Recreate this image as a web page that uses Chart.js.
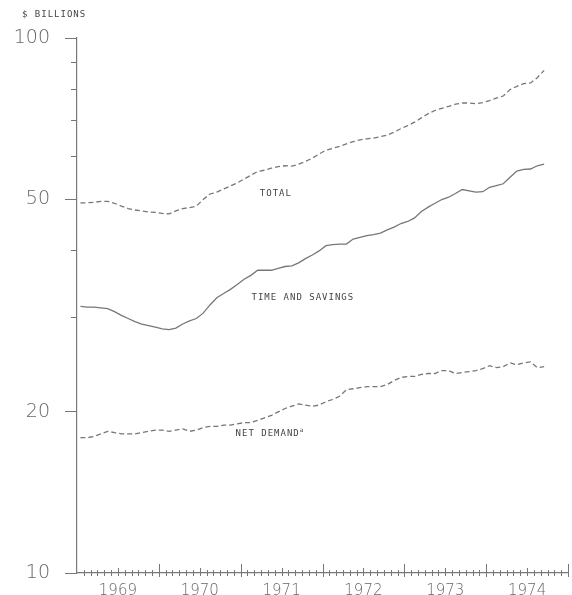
<!DOCTYPE html>
<html>
<head>
<meta charset="utf-8">
<script src="https://cdn.jsdelivr.net/npm/chart.js@4.4.1/dist/chart.umd.min.js"></script>
<style>
  html, body { margin: 0; padding: 0; background: #fff; }
</style>
</head>
<body>
<canvas id="depositChart" width="572" height="595"></canvas>
<script>
// monthly readings, Jan 1969 .. Sep 1974, plotted at mid-month
const firstYear = 1969;
const monthCount = 69;
const months = Array.from({ length: monthCount }, (_, i) => firstYear + (i + 0.5) / 12);

// $ billions
const total = [
  49.2, 49.2, 49.3, 49.5, 49.5, 49.1, 48.5, 48.0, 47.7, 47.5, 47.3, 47.2,
  47.0, 46.9, 47.5, 48.0, 48.2, 48.5, 49.9, 51.1, 51.5, 52.2, 52.9, 53.6,
  54.5, 55.4, 56.3, 56.6, 57.1, 57.5, 57.7, 57.6, 58.1, 58.8, 59.6, 60.7,
  61.7, 62.2, 62.7, 63.4, 64.0, 64.5, 64.8, 65.0, 65.4, 65.8, 66.7, 67.7,
  68.6, 69.6, 70.9, 72.2, 73.2, 73.9, 74.5, 75.2, 75.6, 75.6, 75.4, 75.7,
  76.4, 77.2, 77.9, 80.1, 81.2, 82.2, 82.4, 84.3, 87.0
];
const timeSavings = [
  31.5, 31.4, 31.4, 31.3, 31.2, 30.8, 30.3, 29.9, 29.5, 29.2, 29.0, 28.8,
  28.6, 28.5, 28.7, 29.2, 29.6, 29.9, 30.6, 31.7, 32.7, 33.3, 33.9, 34.6,
  35.4, 36.0, 36.8, 36.8, 36.8, 37.1, 37.4, 37.5, 38.0, 38.7, 39.3, 40.0,
  40.9, 41.1, 41.2, 41.2, 42.1, 42.4, 42.7, 42.9, 43.2, 43.8, 44.3, 45.0,
  45.4, 46.1, 47.4, 48.3, 49.1, 49.9, 50.4, 51.2, 52.1, 51.8, 51.5, 51.6,
  52.6, 53.0, 53.4, 54.9, 56.4, 56.8, 56.9, 57.7, 58.1
];
const netDemand = [
  17.9, 17.9, 18.0, 18.2, 18.4, 18.3, 18.2, 18.2, 18.2, 18.3, 18.4, 18.5,
  18.5, 18.4, 18.5, 18.6, 18.4, 18.5, 18.7, 18.8, 18.8, 18.9, 18.9, 19.0,
  19.1, 19.1, 19.3, 19.5, 19.7, 20.0, 20.3, 20.5, 20.7, 20.6, 20.5, 20.6,
  20.9, 21.1, 21.4, 22.0, 22.1, 22.2, 22.3, 22.3, 22.3, 22.5, 22.9, 23.2,
  23.3, 23.3, 23.5, 23.6, 23.6, 23.9, 23.9, 23.6, 23.7, 23.8, 23.9, 24.1,
  24.4, 24.2, 24.3, 24.7, 24.5, 24.7, 24.8, 24.2, 24.3
];

const yearLabels = ["1969", "1970", "1971", "1972", "1973", "1974"];
const yMajorTicks = [10, 20, 50, 100];
const yMinorTicks = [30, 40, 60, 70, 80, 90];

// curve captions, placed in data units
const curveLabels = [
  { text: "TOTAL", x: 1971.43, y: 51.1 },
  { text: "TIME AND SAVINGS", x: 1971.76, y: 32.7 },
  { text: "NET DEMAND", x: 1971.33, y: 18.2, note: "a" }
];

const inkColor = "#777";
const textColor = "#444";
const smallFont = "9px 'DejaVu Sans Mono', monospace";

// month / half-year / year marks that cross the time axis
const crossTicks = {
  id: "crossTicks",
  afterDraw(chart) {
    const { ctx, chartArea } = chart;
    const x = chart.scales.x;
    const base = chartArea.bottom;
    ctx.save();
    ctx.strokeStyle = inkColor;
    ctx.lineWidth = 1;
    x.ticks.forEach((t) => {
      const k = Math.round((t.value - firstYear) * 12);
      if (k === 0) return;
      const up = k % 12 === 0 ? 9 : k % 6 === 0 ? 5 : 3;
      const down = k % 12 === 0 ? 4 : 3;
      const px = Math.round(x.getPixelForValue(t.value)) + 0.5;
      ctx.beginPath();
      ctx.moveTo(px, base - up);
      ctx.lineTo(px, base + down);
      ctx.stroke();
    });
    ctx.restore();
  }
};

const captions = {
  id: "captions",
  afterDraw(chart) {
    const { ctx } = chart;
    const { x, y } = chart.scales;
    ctx.save();
    ctx.fillStyle = textColor;
    ctx.font = smallFont;
    ctx.letterSpacing = "1px";
    ctx.textBaseline = "middle";

    ctx.textAlign = "left";
    ctx.fillText("$ BILLIONS", 22, 15);

    ctx.textAlign = "center";
    curveLabels.forEach((l) => {
      const px = x.getPixelForValue(l.x);
      const py = y.getPixelForValue(l.y);
      ctx.fillText(l.text, px, py);
      if (l.note) {
        const w = ctx.measureText(l.text).width;
        ctx.save();
        ctx.font = "6px 'DejaVu Sans Mono', monospace";
        ctx.textAlign = "left";
        ctx.fillText(l.note, px + w / 2, py - 3);
        ctx.restore();
      }
    });
    ctx.restore();
  }
};

const lineStyle = {
  borderColor: inkColor,
  borderWidth: 1.3,
  pointRadius: 0,
  tension: 0,
  fill: false
};

new Chart(document.getElementById("depositChart"), {
  type: "line",
  data: {
    labels: months,
    datasets: [
      { label: "Total", data: total, borderDash: [5, 3], ...lineStyle },
      { label: "Time and savings", data: timeSavings, ...lineStyle },
      { label: "Net demand", data: netDemand, borderDash: [5, 3], ...lineStyle }
    ]
  },
  options: {
    responsive: false,
    animation: false,
    devicePixelRatio: 1,
    layout: { padding: { top: 38, right: 4, left: 0, bottom: 0 } },
    plugins: {
      legend: { display: false },
      tooltip: { enabled: false }
    },
    scales: {
      x: {
        type: "linear",
        min: firstYear,
        max: firstYear + 6,
        position: "bottom",
        afterBuildTicks: (scale) => {
          scale.ticks = Array.from({ length: 73 }, (_, k) => ({ value: firstYear + k / 12 }));
        },
        afterFit: (scale) => { scale.height = 22; },
        grid: { display: false },
        border: { display: true, color: inkColor, width: 1.2 },
        ticks: {
          autoSkip: false,
          maxRotation: 0,
          padding: 1,
          color: "#666",
          font: { family: "'DejaVu Sans'", size: 15, weight: "200" },
          callback: (value) => {
            const k = Math.round((value - firstYear) * 12);
            return k % 12 === 6 ? yearLabels[(k - 6) / 12] : "";
          }
        }
      },
      y: {
        type: "logarithmic",
        min: 10,
        max: 100,
        position: "left",
        afterBuildTicks: (scale) => {
          scale.ticks = yMajorTicks.map((v) => ({ value: v }));
        },
        afterFit: (scale) => {
          scale.width = 77;
          // labels overhang is handled by the fixed top padding
          scale.paddingTop = 0;
          scale.paddingBottom = 0;
        },
        grid: { drawOnChartArea: false, tickLength: 12, color: inkColor, lineWidth: 1 },
        border: { display: true, color: inkColor, width: 1.2 },
        ticks: {
          padding: 15,
          color: "#666",
          font: { family: "'DejaVu Sans'", size: 19, weight: "200" },
          callback: (value) => String(value)
        }
      },
      yMinor: {
        type: "logarithmic",
        min: 10,
        max: 100,
        position: { x: firstYear },
        afterBuildTicks: (scale) => {
          scale.ticks = yMinorTicks.map((v) => ({ value: v }));
        },
        grid: { drawOnChartArea: false, tickLength: 6, color: inkColor, lineWidth: 1 },
        border: { display: false },
        ticks: { display: false }
      }
    }
  },
  plugins: [crossTicks, captions]
});
</script>
</body>
</html>
